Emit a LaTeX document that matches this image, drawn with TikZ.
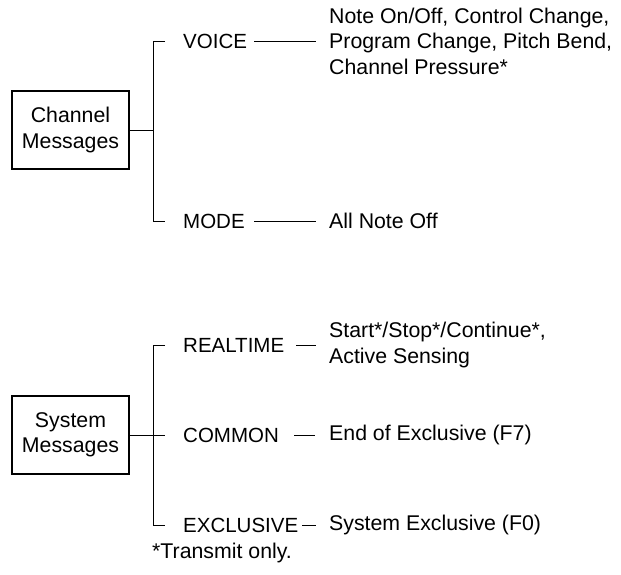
\documentclass[tikz,border=0pt]{standalone}
\usepackage{fontspec}
\setmainfont{Liberation Sans}
\begin{document}
\begin{tikzpicture}[x=1pt,y=-1pt,
  every node/.style={font=\fontsize{21.3}{25.5}\selectfont, inner sep=0pt},
  caps/.style={font=\fontsize{20.5}{25.5}\selectfont},
  catbox/.style={draw, line width=1.4pt, minimum width=117pt, minimum height=78pt, align=center},
  lbl/.style={anchor=west, caps},
  desc/.style={anchor=west, align=left},
  conn/.style={line width=0.9pt}]
\useasboundingbox (0,0) rectangle (621,574);
% Channel messages
\node[catbox] (ch) at (70.5,130) {Channel\\Messages};
\coordinate (chj) at (153,130);
\coordinate (vt) at (165,41);
\coordinate (vc) at (153,41);
\coordinate (mt) at (165,221);
\coordinate (mc) at (153,221);
\node[lbl] (voice) at (183,41) {VOICE};
\node[lbl] (mode) at (183,221) {MODE};
\node[desc] (vdesc) at (329,41) {Note On/Off, Control Change,\\Program Change, Pitch Bend,\\Channel Pressure*};
\node[desc] (mdesc) at (329,221) {All Note Off};
\coordinate (v1) at (254,41); \coordinate (v2) at (316,41);
\coordinate (m1) at (254,221); \coordinate (m2) at (316,221);
\draw[conn] (ch.east) -- (chj);
\draw[conn] (vt) -- (vc) -- (mc) -- (mt);
\draw[conn] (v1) -- (v2);
\draw[conn] (m1) -- (m2);
% System messages
\node[catbox] (sy) at (70.5,435) {System\\Messages};
\coordinate (syj) at (165,435);
\coordinate (rt) at (165,345);
\coordinate (rc) at (153,345);
\coordinate (et) at (165,525);
\coordinate (ec) at (153,525);
\node[lbl] (rtime) at (183,345) {REALTIME};
\node[lbl] (common) at (183,435) {COMMON};
\node[lbl] (excl) at (183,525) {EXCLUSIVE};
\node[desc] (rdesc) at (329,345) {Start*/Stop*/Continue*,\\Active Sensing};
\node[desc] (cdesc) at (329,435) {End of Exclusive (F7)};
\node[desc] (edesc) at (329,525) {System Exclusive (F0)};
\coordinate (r1) at (296,345); \coordinate (r2) at (316,345);
\coordinate (c1) at (294,435); \coordinate (c2) at (315,435);
\coordinate (e1) at (302,525); \coordinate (e2) at (316,525);
\draw[conn] (sy.east) -- (syj);
\draw[conn] (rt) -- (rc) -- (ec) -- (et);
\draw[conn] (r1) -- (r2);
\draw[conn] (c1) -- (c2);
\draw[conn] (e1) -- (e2);
\node[anchor=west] (note) at (152,553) {*Transmit only.};
\end{tikzpicture}
\end{document}
